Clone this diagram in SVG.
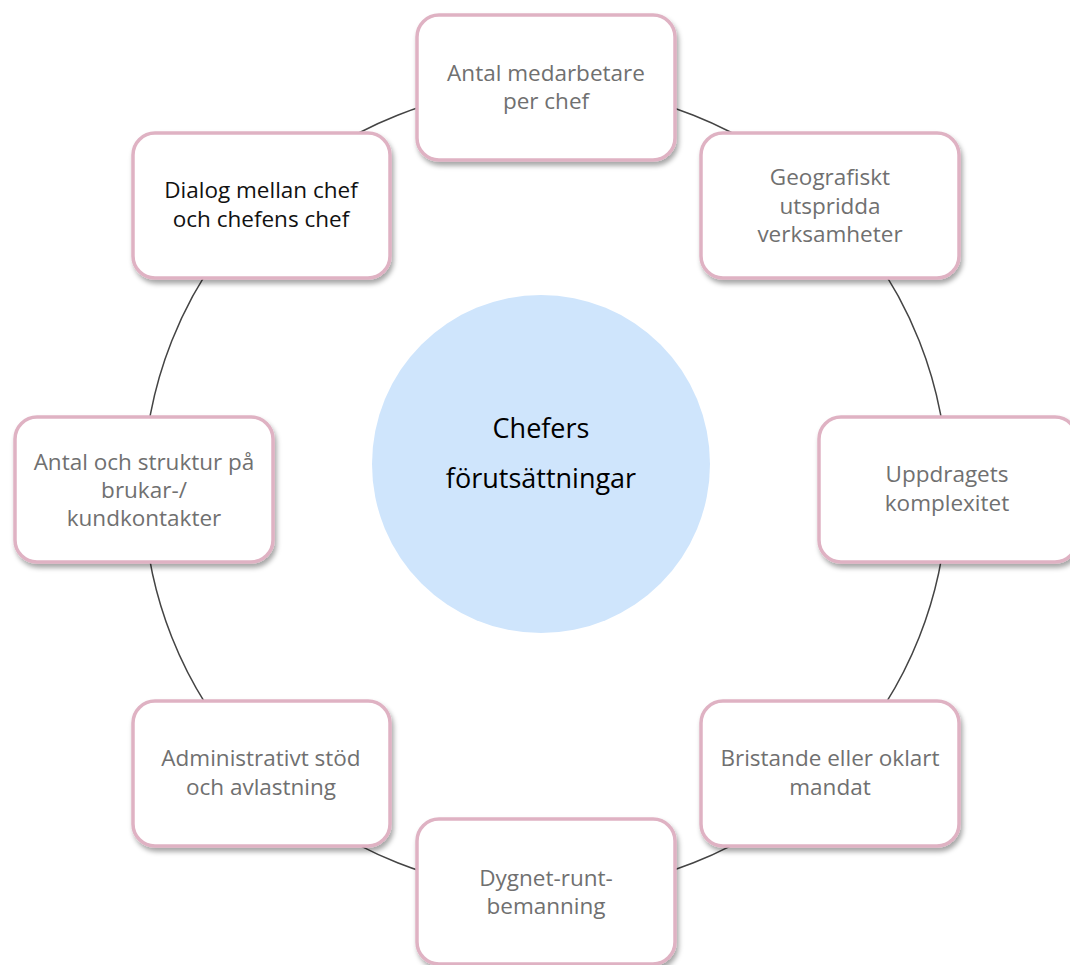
<svg xmlns="http://www.w3.org/2000/svg" width="1070" height="965" viewBox="0 0 1070 965">
<defs>
<filter id="sh" x="-10%" y="-10%" width="125%" height="130%">
<feDropShadow dx="2" dy="4" stdDeviation="2.5" flood-color="#000" flood-opacity="0.35"/>
</filter>
<style>
.box{fill:#fff;stroke:#dfb2c3;stroke-width:3.5;filter:url(#sh)}
.t{font-family:"Open Sans",Lato,"Noto Sans",sans-serif;font-size:22.5px;fill:#707070;text-anchor:middle}
.dark{fill:#111}
.c{font-family:"Open Sans",Lato,"Noto Sans",sans-serif;font-size:27px;fill:#000;text-anchor:middle}
</style>
</defs>
<rect width="1070" height="965" fill="#fff"/>
<g id="connectors">
<circle cx="545.5" cy="489" r="402" fill="none" stroke="#444" stroke-width="1.5"/>
</g>
<g id="center">
<circle cx="541" cy="464" r="169" fill="#cfe5fc"/>
<text class="c" x="541" y="438">Chefers</text>
<text class="c" x="541" y="488">förutsättningar</text>
</g>
<g id="n1">
<rect class="box" x="417" y="15" width="258" height="145" rx="22"/>
<text class="t" x="546" y="81">Antal medarbetare</text>
<text class="t" x="546" y="109">per chef</text>
</g>
<g id="n2">
<rect class="box" x="701" y="133" width="258" height="145" rx="22"/>
<text class="t" x="830" y="185">Geografiskt</text>
<text class="t" x="830" y="214">utspridda</text>
<text class="t" x="830" y="242">verksamheter</text>
</g>
<g id="n3">
<rect class="box" x="819" y="417" width="258" height="145" rx="22"/>
<text class="t" x="947" y="482">Uppdragets</text>
<text class="t" x="947" y="511">komplexitet</text>
</g>
<g id="n4">
<rect class="box" x="701" y="701" width="258" height="145" rx="22"/>
<text class="t" x="830" y="766">Bristande eller oklart</text>
<text class="t" x="830" y="795">mandat</text>
</g>
<g id="n5">
<rect class="box" x="417" y="819" width="258" height="145" rx="22"/>
<text class="t" x="546" y="886">Dygnet-runt-</text>
<text class="t" x="546" y="914">bemanning</text>
</g>
<g id="n6">
<rect class="box" x="133" y="701" width="257" height="145" rx="22"/>
<text class="t" x="261" y="766">Administrativt stöd</text>
<text class="t" x="261" y="795">och avlastning</text>
</g>
<g id="n7">
<rect class="box" x="15" y="417" width="258" height="145" rx="22"/>
<text class="t" x="144" y="470">Antal och struktur på</text>
<text class="t" x="144" y="498">brukar-/</text>
<text class="t" x="144" y="526">kundkontakter</text>
</g>
<g id="n8">
<rect class="box" x="133" y="133" width="257" height="145" rx="22"/>
<text class="t dark" x="261" y="198">Dialog mellan chef</text>
<text class="t dark" x="261" y="227">och chefens chef</text>
</g>
</svg>
